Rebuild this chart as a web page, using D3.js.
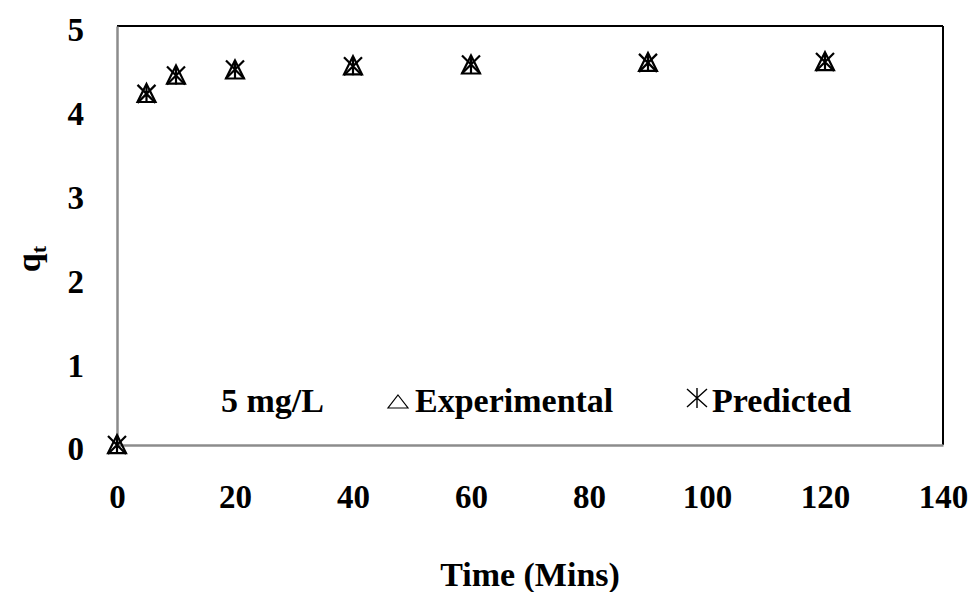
<!DOCTYPE html>
<html>
<head>
<meta charset="utf-8">
<script src="https://cdn.jsdelivr.net/npm/d3@7"></script>
<style>
  html, body { margin: 0; padding: 0; background: #fff; }
</style>
</head>
<body>
<svg id="chart" width="972" height="592"></svg>
<script>
// Adsorption kinetics at 5 mg/L: experimental vs. model-predicted uptake
const timeMins     = [0, 5, 10, 20, 40, 60, 90, 120];
const experimental = [0, 4.19, 4.41, 4.47, 4.52, 4.53, 4.56, 4.57];
const predicted    = [0, 4.19, 4.41, 4.48, 4.52, 4.54, 4.56, 4.57];
const xTicks = [0, 20, 40, 60, 80, 100, 120, 140];
const yTicks = [0, 1, 2, 3, 4, 5];

const FONT = "'Liberation Serif', 'Times New Roman', serif";
const svg = d3.select("#chart");
const plotL = 117, plotR = 943, plotT = 26, plotB = 445;

const x = d3.scaleLinear().domain([0, 140]).range([plotL, plotR]);
const y = d3.scaleLinear().domain([0, 5]).range([plotB, plotT]);

const styleText = (sel, size) => sel.style("font-family", FONT).style("font-weight", "bold")
  .style("font-size", size + "px").style("fill", "#000");

// plot frame: black top/right, grey axis lines left/bottom
svg.append("line").attr("x1", plotL).attr("x2", plotR).attr("y1", plotT).attr("y2", plotT)
  .attr("stroke", "#000").attr("stroke-width", 2);
svg.append("line").attr("x1", plotR).attr("x2", plotR).attr("y1", plotT).attr("y2", plotB)
  .attr("stroke", "#000").attr("stroke-width", 2);

const xAxis = svg.append("g").attr("transform", `translate(0,${plotB})`)
  .call(d3.axisBottom(x).tickValues(xTicks).tickFormat(d3.format("d")).tickSize(0).tickPadding(0));
const yAxis = svg.append("g").attr("transform", `translate(${plotL},0)`)
  .call(d3.axisLeft(y).tickValues(yTicks).tickFormat(d3.format("d")).tickSize(0).tickPadding(0));

[xAxis, yAxis].forEach(g => {
  g.select(".domain").attr("stroke", "#8c8c8c").attr("stroke-width", 2.5);
  styleText(g.selectAll("text"), 33);
});
xAxis.selectAll("text").attr("dy", null).attr("y", 63);
yAxis.selectAll("text").attr("dy", "0.45em").attr("x", -33);

// markers
const tri = s => `M0,${-s * 0.55}L${s / 2},${s * 0.45}L${-s / 2},${s * 0.45}Z`;
const star = s => `M${-s / 2},${-s / 2}L${s / 2},${s / 2}M${s / 2},${-s / 2}L${-s / 2},${s / 2}M0,${-s / 2}L0,${s / 2}`;

svg.append("g").selectAll("path").data(timeMins.map((t, i) => [t, experimental[i]]))
  .join("path")
  .attr("transform", d => `translate(${x(d[0])},${y(d[1])})`)
  .attr("d", tri(18))
  .attr("fill", "none").attr("stroke", "#000").attr("stroke-width", 2.2);

svg.append("g").selectAll("path").data(timeMins.map((t, i) => [t, predicted[i]]))
  .join("path")
  .attr("transform", d => `translate(${x(d[0])},${y(d[1])})`)
  .attr("d", star(18))
  .attr("fill", "none").attr("stroke", "#000").attr("stroke-width", 2.2);

// legend
styleText(svg.append("text").attr("x", 221).attr("y", 412).text("5 mg/L"), 34);
svg.append("path").attr("transform", "translate(398,402)")
  .attr("d", "M0,-7L10,6L-10,6Z").attr("fill", "none").attr("stroke", "#000").attr("stroke-width", 1.2);
styleText(svg.append("text").attr("x", 415).attr("y", 412).text("Experimental"), 34);
svg.append("path").attr("transform", "translate(697,398)")
  .attr("d", "M-10,-9L10,9M10,-9L-10,9M0,-10L0,10").attr("fill", "none").attr("stroke", "#000").attr("stroke-width", 1.4);
styleText(svg.append("text").attr("x", 712).attr("y", 412).text("Predicted"), 34);

// axis titles
styleText(svg.append("text").attr("x", 530).attr("y", 586).attr("text-anchor", "middle")
  .text("Time (Mins)"), 34);
const yl = styleText(svg.append("text").attr("transform", "translate(40,259) rotate(-90)")
  .attr("text-anchor", "middle"), 34);
yl.append("tspan").text("q");
yl.append("tspan").style("font-size", "22px").attr("dy", 6).text("t");
</script>
</body>
</html>
